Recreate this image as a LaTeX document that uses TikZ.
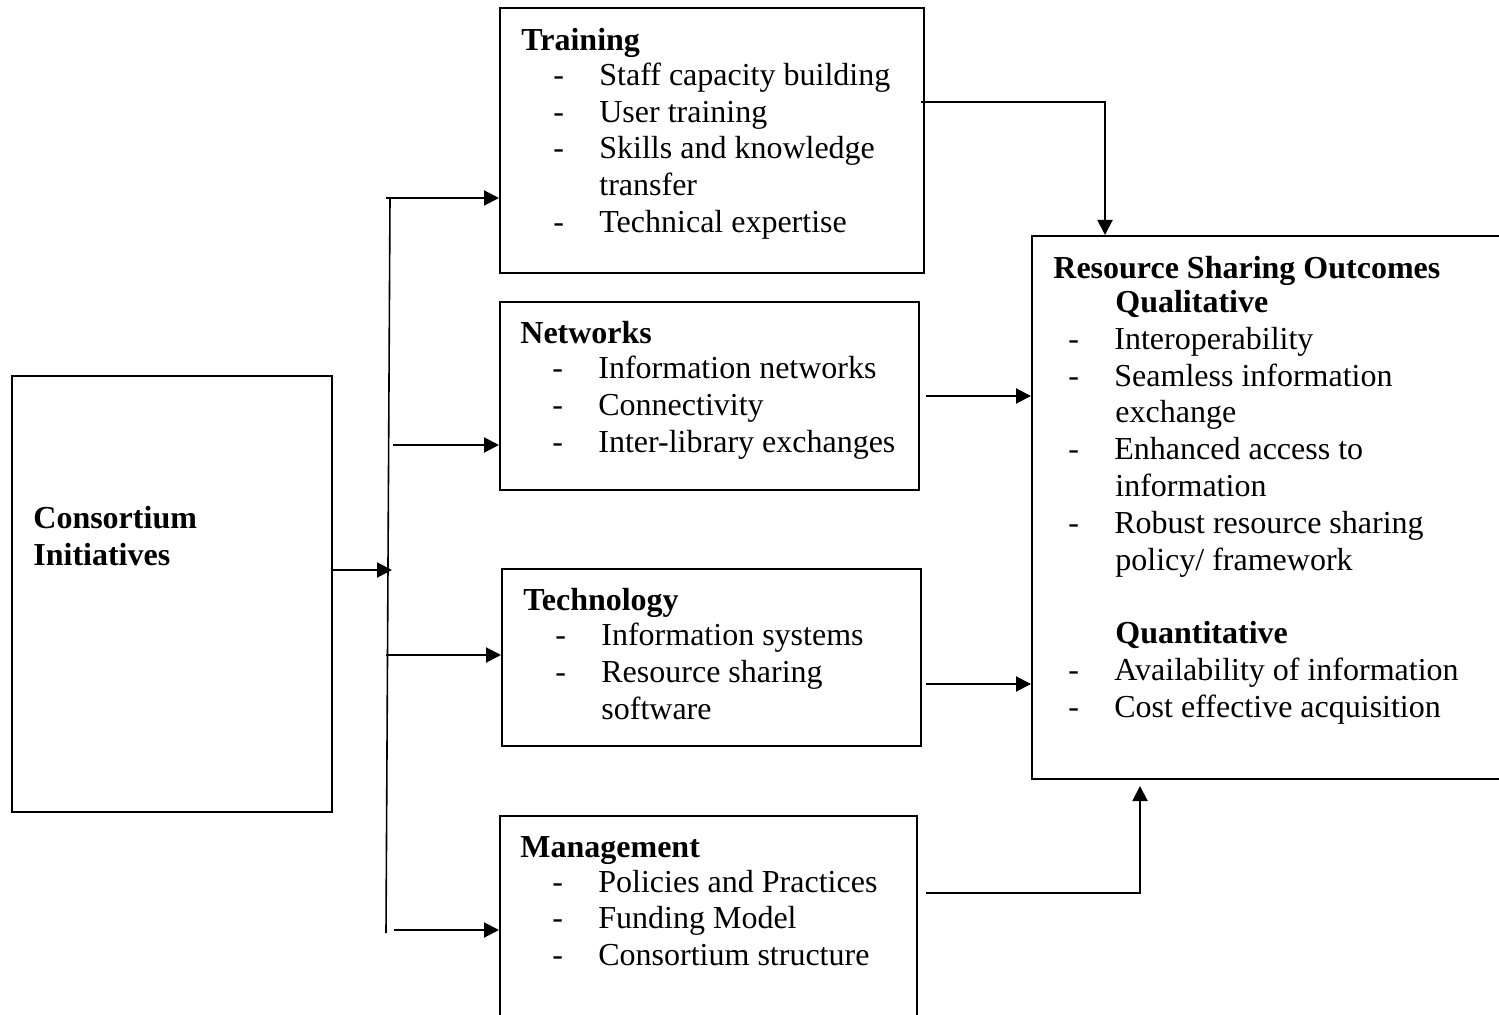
\documentclass[tikz,border=0pt]{standalone}
\usepackage{fontspec}
\setmainfont{Liberation Serif}
\usetikzlibrary{arrows.meta}

\newcommand{\li}[2][16pt]{\hspace*{#1}\makebox[23pt][l]{-}#2}
\newcommand{\ct}[2][39pt]{\hspace*{#1}#2}

\tikzset{
  box/.style={draw, line width=1pt, inner sep=0pt},
  txt/.style={anchor=north west, inner sep=0pt, align=left,
    font=\fontsize{16}{18.4}\selectfont},
  arr/.style={line width=1pt, -{Triangle[length=7.5pt,width=7.5pt]}},
  link/.style={line width=1pt}
}

\begin{document}
\begin{tikzpicture}[x=0.5pt,y=-0.5pt]
    \clip (0,0) rectangle (1499,1015);

    % boxes
    \node[box, minimum width=160pt, minimum height=218pt]   (cons)  at (172,594)    {};
    \node[box, minimum width=212pt, minimum height=132.5pt] (train) at (712,140.5)  {};
    \node[box, minimum width=209.5pt, minimum height=94pt]  (netw)  at (709.5,396)  {};
    \node[box, minimum width=209.5pt, minimum height=88.5pt](tech)  at (711.5,657.5){};
    \node[box, minimum width=208.5pt, minimum height=107pt] (mgmt)  at (708.5,923)  {};
    \node[box, minimum width=241.5pt, minimum height=271.5pt](res)  at (1273.5,507.5){};

    % texts
    \node[txt] (consT) at (33,506) {\textbf{Consortium}\\\textbf{Initiatives}};
    \node[txt] (trainT) at (521,28) {\textbf{Training}\\[-1pt]
        \li{Staff capacity building}\\
        \li{User training}\\
        \li{Skills and knowledge}\\
        \ct{transfer}\\
        \li{Technical expertise}};
    \node[txt] (netwT) at (520,321) {\textbf{Networks}\\[-1pt]
        \li{Information networks}\\
        \li{Connectivity}\\
        \li{Inter-library exchanges}};
    \node[txt] (techT) at (523,588) {\textbf{Technology}\\[-1pt]
        \li{Information systems}\\
        \li{Resource sharing}\\
        \ct{software}};
    \node[txt] (mgmtT) at (520,836) {\textbf{Management}\\[-1pt]
        \li{Policies and Practices}\\
        \li{Funding Model}\\
        \li{Consortium structure}};
    \node[txt] (resT) at (1053,256) {\textbf{Resource Sharing Outcomes}\\[-1.5pt]
        \ct[31pt]{\textbf{Qualitative}}\\
        \li[7.5pt]{Interoperability}\\
        \li[7.5pt]{Seamless information}\\
        \ct[31pt]{exchange}\\
        \li[7.5pt]{Enhanced access to}\\
        \ct[31pt]{information}\\
        \li[7.5pt]{Robust resource sharing}\\
        \ct[31pt]{policy/ framework}\\[18.4pt]
        \ct[31pt]{\textbf{Quantitative}}\\
        \li[7.5pt]{Availability of information}\\
        \li[7.5pt]{Cost effective acquisition}};

    % left branching
    \coordinate (top) at (390,198);
    \coordinate (bot) at (386,933);
    \draw[line width=0.8pt] (top) -- (bot);
    \draw[arr] (cons.east |- 0,570) -- (392,570);
    \draw[arr] (386,198) -- (train.west |- 0,198);
    \draw[arr] (393,445) -- (netw.west |- 0,445);
    \draw[arr] (386,655) -- (tech.west |- 0,655);
    \draw[arr] (394,930) -- (mgmt.west |- 0,930);

    % right side
    \draw[arr] ([xshift=-2pt]train.east |- 0,102) -- (1105,102) -- (res.north -| 1105,0);
    \draw[arr] ([xshift=3pt]netw.east) -- (res.west |- netw.east);
    \draw[arr] ([xshift=2pt]tech.east |- 0,684) -- (res.west |- 0,684);
    \draw[arr] ([xshift=4pt]mgmt.east |- 0,893) -- (1140,893) -- ([yshift=-3pt]res.south -| 1140,0);
\end{tikzpicture}
\end{document}
